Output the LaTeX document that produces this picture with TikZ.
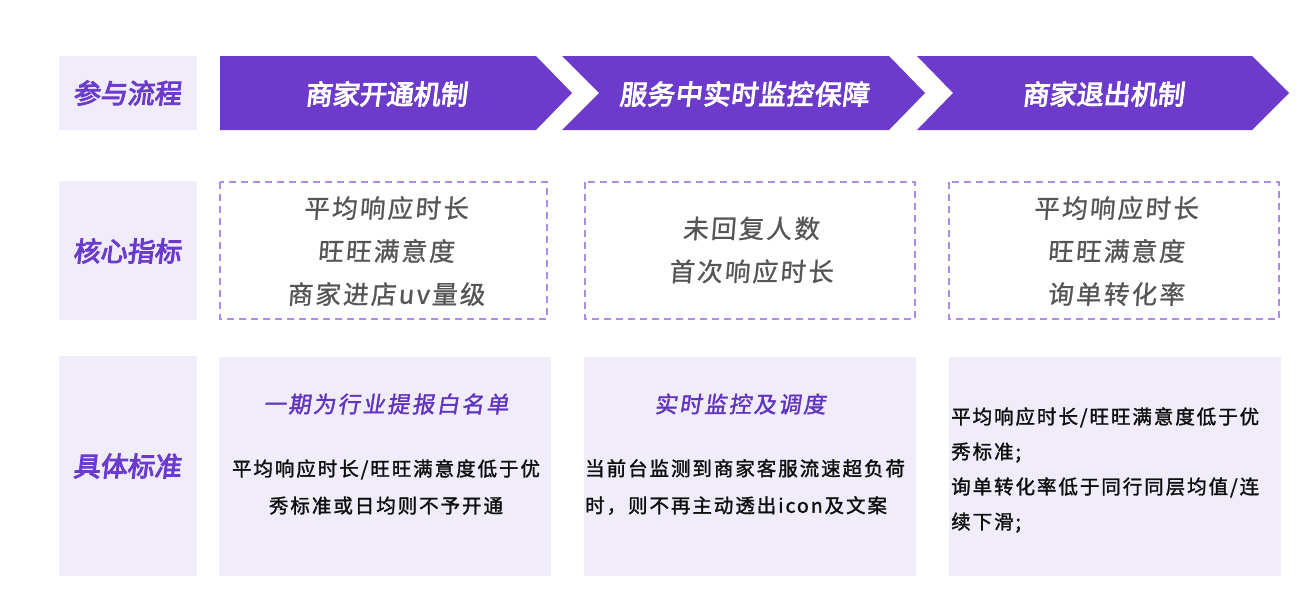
\documentclass[tikz,border=0pt]{standalone}
\usepackage{fontspec}
\newfontfamily\cjk{Noto Sans CJK SC}
\newfontfamily\cjkhead[FakeBold=3.6,FakeSlant=0.12]{Noto Sans CJK SC}
\newfontfamily\cjkheadw[FakeBold=3.6,FakeSlant=0.12,LetterSpace=3]{Noto Sans CJK SC}
\newfontfamily\cjktitle[FakeBold=1.6,FakeSlant=0.16,LetterSpace=10]{Noto Sans CJK SC}
\newfontfamily\cjkkpi[FakeBold=0.9,FakeSlant=0.08,LetterSpace=9]{Noto Sans CJK SC}
\newfontfamily\cjkbody[FakeBold=1.6,LetterSpace=10]{Noto Sans CJK SC}
\definecolor{arrowpurple}{RGB}{108,59,204}
\definecolor{labelbg}{RGB}{240,236,250}
\definecolor{labeltext}{RGB}{107,60,204}
\definecolor{dashcol}{RGB}{172,140,232}
\definecolor{titlecol}{RGB}{96,52,190}
\definecolor{graytext}{RGB}{85,85,85}
\definecolor{bodytext}{RGB}{15,15,15}
\tikzset{
  labelbox/.style={fill=labelbg, draw=none},
  chevron/.style={fill=arrowpurple, draw=none},
  kpibox/.style={draw=dashcol, line width=1.6pt, dash pattern=on 7pt off 5pt},
  detailbox/.style={fill=labelbg, draw=none},
  labeltxt/.style={text=labeltext, font=\cjkhead\fontsize{27}{32}\selectfont, inner sep=0},
  headtxt/.style={text=white, font=\cjkhead\fontsize{27}{32}\selectfont, inner sep=0},
  kpitxt/.style={text=graytext, align=center, inner sep=0, font=\cjkkpi\fontsize{25.5}{43}\selectfont},
  titletxt/.style={text=titlecol, inner sep=0, font=\cjktitle\fontsize{22.5}{26}\selectfont},
  bodytxt/.style={text=bodytext, inner sep=0, font=\cjkbody\fontsize{19.5}{37}\selectfont},
}
\begin{document}
\begin{tikzpicture}[x=1pt,y=-1pt]
\useasboundingbox[fill=white] (0,0) rectangle (1316,600);
% left labels
\fill[labelbox] (59,56) rectangle (197,130);
\fill[labelbox] (59,181) rectangle (197,320);
\fill[labelbox] (59,356) rectangle (197,576);
\node[labeltxt] (lab1) at (127,93) {参与流程};
\node[labeltxt] (lab2) at (127,251) {核心指标};
\node[labeltxt] (lab3) at (127,466) {具体标准};
% chevrons
\fill[chevron] (220,56) -- (536,56) -- (572,93) -- (536,130) -- (220,130) -- cycle;
\fill[chevron] (562,56) -- (889,56) -- (925,93) -- (889,130) -- (562,130) -- (599,93) -- cycle;
\fill[chevron] (917,56) -- (1252,56) -- (1289,93) -- (1252,130) -- (917,130) -- (953,93) -- cycle;
\node[headtxt] (h1) at (386,94) {商家开通机制};
\node[headtxt, font=\cjkheadw\fontsize{27}{32}\selectfont] (h2) at (744,94) {服务中实时监控保障};
\node[headtxt] (h3) at (1103,94) {商家退出机制};
% KPI boxes
\draw[kpibox] (220,182) rectangle (547,319);
\draw[kpibox] (585,182) rectangle (915,319);
\draw[kpibox] (949,182) rectangle (1279,319);
\node[kpitxt] (k1) at (386,251) {平均响应时长\\旺旺满意度\\商家进店uv量级};
\node[kpitxt] (k2) at (751,250) {未回复人数\\首次响应时长};
\node[kpitxt] (k3) at (1116,251) {平均响应时长\\旺旺满意度\\询单转化率};
% detail boxes
\fill[detailbox] (219,357) rectangle (551,576);
\fill[detailbox] (584,357) rectangle (916,576);
\fill[detailbox] (949,357) rectangle (1281,576);
\node[titletxt] (t1) at (386,404) {一期为行业提报白名单};
\node[titletxt] (t2) at (740,404) {实时监控及调度};
\node[bodytxt, align=center] (b1) at (386,487) {平均响应时长/旺旺满意度低于优\\秀标准或日均则不予开通};
\node[bodytxt, align=left, anchor=west] (b2) at (585,487) {当前台监测到商家客服流速超负荷\\时，则不再主动透出icon及文案};
\node[bodytxt, align=left, anchor=west, font=\cjkbody\fontsize{19.5}{35}\selectfont] (b3) at (951,470) {平均响应时长/旺旺满意度低于优\\秀标准;\\询单转化率低于同行同层均值/连\\续下滑;};
\end{tikzpicture}
\end{document}
